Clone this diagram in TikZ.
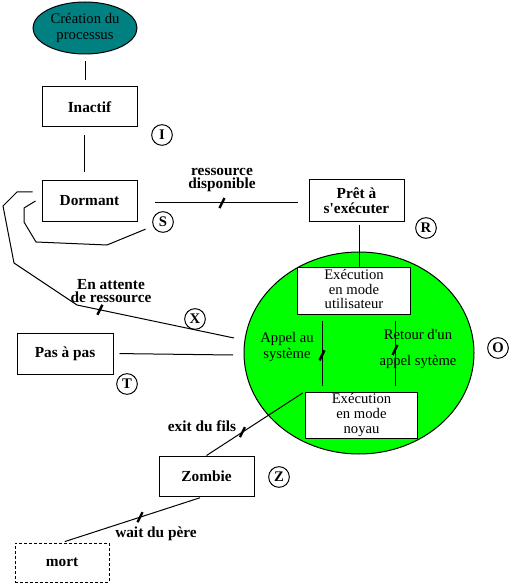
\documentclass[tikz,border=0pt]{standalone}
\usepackage{fontspec}
\setmainfont{Liberation Serif}
\usetikzlibrary{shapes.geometric}
\definecolor{teal0}{RGB}{0,128,128}
\definecolor{green0}{RGB}{0,255,0}
\begin{document}
\begin{tikzpicture}[x=0.75pt,y=-0.75pt,line width=0.75pt,
  box/.style={draw,fill=white,inner sep=0pt,align=center,font=\fontsize{11.5}{11.5}\selectfont\bfseries},
  rbox/.style={draw,fill=white,inner sep=0pt,align=center,font=\fontsize{11}{11}\selectfont},
  circ/.style={circle,draw,inner sep=0pt,minimum size=15.5pt,font=\fontsize{11}{11}\selectfont\bfseries},
  lab/.style={inner sep=0pt,align=center,font=\fontsize{11.5}{10}\selectfont\bfseries},
  txt/.style={inner sep=0pt,align=center,font=\fontsize{11}{12}\selectfont},
  tick/.style={line width=1.8pt}]
\useasboundingbox (0,0) rectangle (510,584);
\fill[white] (0,0) rectangle (510,584);
% green oval
\node[ellipse,draw,fill=green0,minimum width=172.5pt,minimum height=151.5pt,inner sep=0pt] (oval) at (359,353) {};
% nodes
\node[ellipse,draw,fill=teal0,minimum width=78pt,minimum height=39pt,inner sep=0pt,align=center,font=\fontsize{11}{11.5}\selectfont] (crea) at (85,28) {Création du\\processus};
\node[box,minimum width=71.25pt,minimum height=30pt] (inactif) at (89.5,107) {Inactif};
\node[box,minimum width=71.25pt,minimum height=30.75pt] (dormant) at (89.5,201) {Dormant};
\node[box,minimum width=71.25pt,minimum height=31.5pt] (pret) at (356.5,201) {Prêt à\\s\textquotesingle exécuter};
\node[rbox,minimum width=84.75pt,minimum height=35.25pt,text depth=2pt] (execU) at (354,290.5) {Exécution\\en mode\\utilisateur};
\node[rbox,minimum width=84pt,minimum height=34.5pt] (execN) at (361.5,415) {Exécution\\en mode\\noyau};
\node[box,minimum width=72pt,minimum height=30.75pt] (pas) at (65,353.5) {Pas à pas};
\node[box,minimum width=71.25pt,minimum height=30pt] (zombie) at (206.5,476) {Zombie};
\node[box,dash pattern=on 2.25pt off 1.5pt,minimum width=70.5pt,minimum height=29.25pt] (mort) at (62,562.5) {mort};
% circled letters
\node[circ] (cI) at (162,135) {I};
\node[circ] (cS) at (163,222) {S};
\node[circ] (cR) at (426,228) {R};
\node[circ] (cX) at (195,319) {X};
\node[circ] (cO) at (498,348) {O};
\node[circ] (cT) at (127,384) {T};
\node[circ] (cZ) at (279,477) {Z};
% labels
\node[lab] (l1) at (222,180) {ressource\\disponible};
\node[lab] (l2) at (111,291) {En attente\\de ressource};
\node[lab] (l3) at (202,426) {exit du fils};
\node[lab] (l4) at (156,534) {wait du père};
\node[txt] (l5) at (287,347) {Appel au\\système};
\node[txt] (l6) at (418,349) {Retour d\textquotesingle un\\[7pt]appel sytème};
% free ends
\coordinate (xend) at (234,338);
\coordinate (pend) at (233,355);
% connectors
\draw[shorten <=5.25pt,shorten >=4.5pt] (crea.south) -- (crea.south |- inactif.north);
\draw[shorten <=6pt,shorten >=6pt] ([xshift=-4pt]inactif.south) -- ([xshift=-4pt]inactif.south |- dormant.north);
\draw[shorten <=12.75pt,shorten >=8.25pt] ([yshift=-1.5pt]dormant.east) -- coordinate[pos=0.494] (t1) ([yshift=-1.5pt]pret.west);
\draw[shorten <=2.25pt] ([xshift=2.6pt]pret.south) -- ([xshift=2.6pt]pret.south |- execU.north);
\draw[shorten >=6pt] ([xshift=-4.5pt]dormant.west) -- (24,208) -- (24,222) -- (36,242) -- (107,245) -- (cS);
\draw ([xshift=-6.75pt,yshift=6.75pt]dormant.west) -- (17,192) -- (3,206) -- (14,263) -- (77,305) -- coordinate[pos=0.146] (t2) (xend);
\draw[shorten <=4.5pt] (pas.east) -- (pend);
\draw[shorten <=4.5pt,shorten >=4.5pt] ([xshift=-24pt]execU.south) -- coordinate[pos=0.53] (t3) ([xshift=-24pt]execU.south |- execN.north);
\draw[shorten <=4.5pt,shorten >=4.5pt] ([xshift=30.75pt]execU.south) -- coordinate[pos=0.46] (t4) ([xshift=30.75pt]execU.south |- execN.north);
\draw[shorten <=2pt] (execN.north west) -- coordinate[pos=0.635] (t5) (zombie.north);
\draw[shorten <=3pt,shorten >=2.25pt] ([xshift=-2pt]zombie.south) -- coordinate[pos=0.45] (t6) (mort.north);
% ticks
\foreach \t in {t1,t2,t3,t4,t5,t6}
  \draw[tick] (\t) ++(-2.5,5) -- ++(5,-10);
\end{tikzpicture}
\end{document}
